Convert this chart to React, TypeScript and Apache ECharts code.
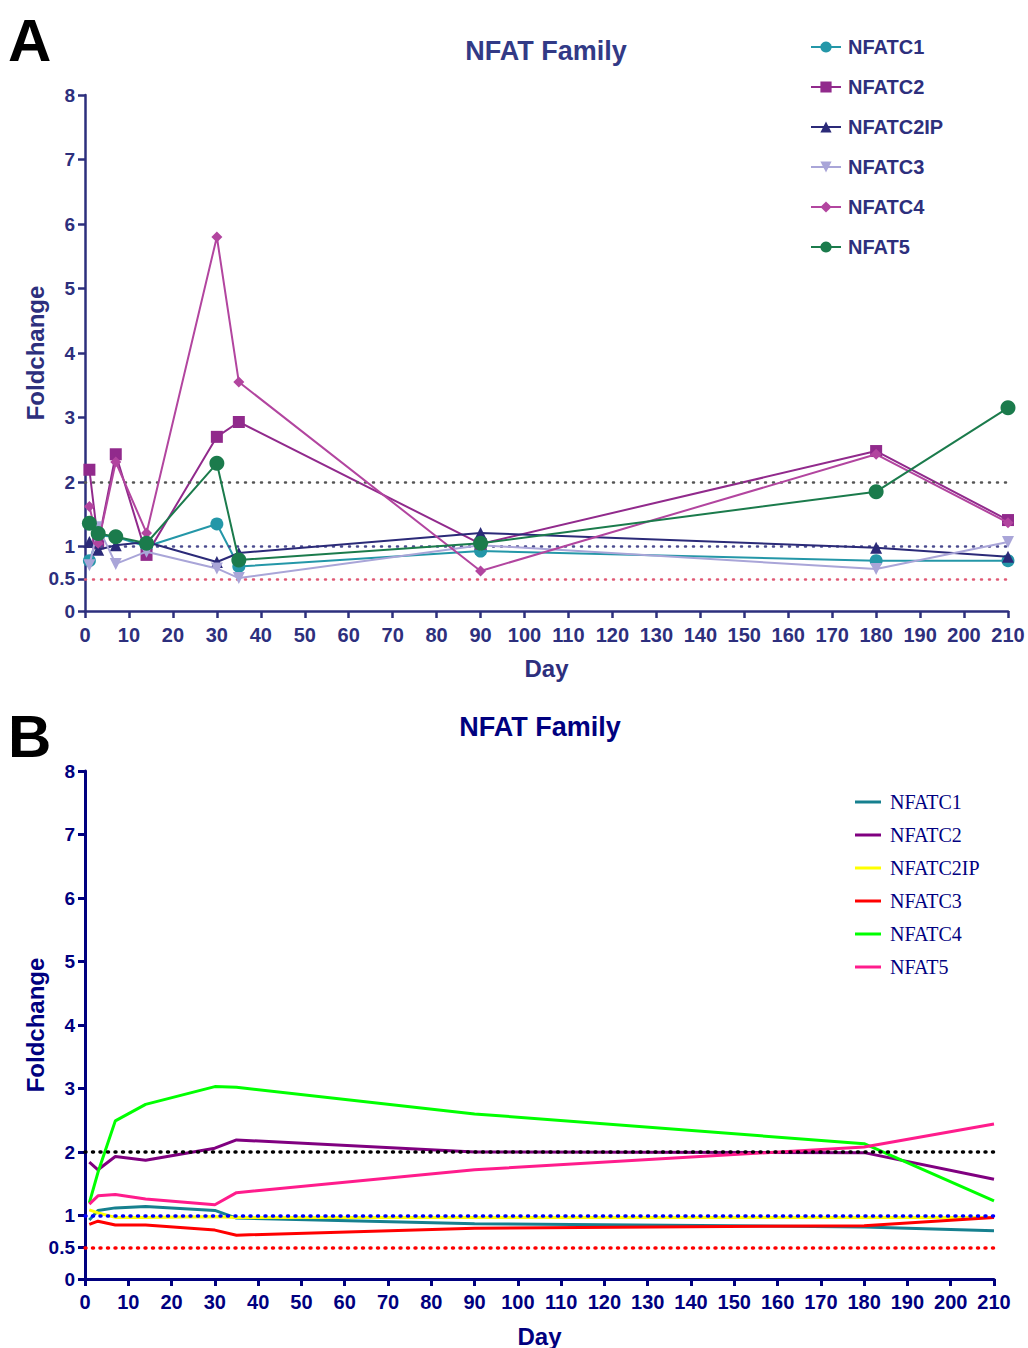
import React, { useEffect, useRef } from "react";
import * as echarts from "echarts";

const days = [1, 3, 7, 14, 30, 35, 90, 180, 210];
const seriesNames = ["NFATC1", "NFATC2", "NFATC2IP", "NFATC3", "NFATC4", "NFAT5"];

// Panel A values
const aNFATC1 = [0.78, 1.17, 1.15, 1.0, 1.35, 0.69, 0.93, 0.78, 0.78];
const aNFATC2 = [2.19, 1.05, 2.43, 0.87, 2.7, 2.93, 1.04, 2.48, 1.41];
const aNFATC2IP = [1.07, 0.95, 1.02, 1.07, 0.76, 0.9, 1.21, 0.98, 0.84];
const aNFATC3 = [0.71, 1.3, 0.73, 0.92, 0.66, 0.51, 1.02, 0.65, 1.07];
const aNFATC4 = [1.62, 1.05, 2.31, 1.21, 5.8, 3.55, 0.62, 2.43, 1.37];
const aNFAT5 = [1.36, 1.2, 1.15, 1.05, 2.29, 0.79, 1.05, 1.85, 3.15];

// Panel B values
const bNFATC1 = [0.93, 1.08, 1.12, 1.14, 1.08, 0.96, 0.87, 0.82, 0.76];
const bNFATC2 = [1.84, 1.72, 1.93, 1.87, 2.06, 2.19, 2.0, 1.99, 1.57];
const bNFATC2IP = [1.09, 1.04, 0.97, 0.97, 0.98, 0.97, 0.97, 0.97, 0.97];
const bNFATC3 = [0.86, 0.91, 0.85, 0.85, 0.77, 0.69, 0.8, 0.84, 0.97];
const bNFATC4 = [1.2, 1.68, 2.49, 2.75, 3.03, 3.02, 2.6, 2.13, 1.23];
const bNFAT5 = [1.18, 1.31, 1.33, 1.26, 1.17, 1.36, 1.72, 2.08, 2.44];

const yTicks = [0, 0.5, 1, 2, 3, 4, 5, 6, 7, 8];
const refLines = [2, 1, 0.5];

const pair = (vals: number[]) => days.map((d, i) => [d, vals[i]]);

function ChartA() {
  const ref = useRef<HTMLDivElement>(null);
  useEffect(() => {
    const chart = echarts.init(ref.current!, null, { renderer: "svg" });
    const axisColor = "#2d2f7d";
    const font = "Liberation Sans, Arial, sans-serif";
    const colors = ["#2497a8", "#912a8c", "#2b2a78", "#a9a5d8", "#b2459f", "#1b7b4c"];
    const symbols = ["circle", "rect", "triangle", "path://M0,0 L10,0 L5,9 Z", "diamond", "circle"];
    const sizes = [13, 12, 12, 12, 11, 15];
    const data = [aNFATC1, aNFATC2, aNFATC2IP, aNFATC3, aNFATC4, aNFAT5];
    const refColors = ["#555555", "#4b4b8f", "#e05a75"];
    const series: any[] = data.map((vals, i) => ({
      name: seriesNames[i],
      type: "line",
      data: pair(vals),
      symbol: symbols[i],
      symbolSize: sizes[i],
      lineStyle: { color: colors[i], width: 2 },
      itemStyle: { color: colors[i] },
      z: 3 + i,
    }));
    series.push({
      name: "ref",
      type: "line",
      data: [],
      z: 2,
      markLine: {
        silent: true,
        symbol: "none",
        label: { show: false },
        data: refLines.map((v, i) => ({
          yAxis: v,
          lineStyle: { color: refColors[i], type: [1, 7], width: 2.5, cap: "round" },
        })),
      },
    });
    chart.setOption({
      animation: false,
      title: {
        text: "NFAT Family",
        left: 541,
        textAlign: "center",
        top: 32,
        textStyle: { color: "#323a86", fontSize: 27, fontWeight: "bold", fontFamily: font },
      },
      graphic: [
        {
          type: "text",
          left: 8,
          top: 10,
          style: { text: "A", fontSize: 60, fontWeight: "bold", fill: "#000", font: `bold 60px ${font}` },
        },
      ],
      legend: {
        data: seriesNames,
        orient: "vertical",
        left: 805,
        top: 32,
        itemWidth: 30,
        itemHeight: 14,
        itemGap: 20,
        textStyle: { color: axisColor, fontSize: 20, fontWeight: "bold", fontFamily: font, padding: [0, 0, 0, 2] },
      },
      grid: { left: 85, top: 95, width: 923, height: 516, outerBoundsMode: "none" },
      xAxis: {
        type: "value",
        min: 0,
        max: 210,
        interval: 10,
        name: "Day",
        nameLocation: "middle",
        nameGap: 45,
        nameMoveOverlap: false,
        nameTextStyle: { color: axisColor, fontSize: 24, fontWeight: "bold", fontFamily: font },
        axisLine: { lineStyle: { color: axisColor, width: 2.5 } },
        axisTick: { lineStyle: { color: axisColor, width: 2.5 }, length: 7 },
        axisLabel: { color: axisColor, fontSize: 20, fontWeight: "bold", fontFamily: font, margin: 14 },
        splitLine: { show: false },
      },
      yAxis: {
        type: "value",
        min: 0,
        max: 8,
        interval: 1,
        name: "Foldchange",
        nameLocation: "middle",
        nameRotate: 90,
        nameGap: 38,
        nameMoveOverlap: false,
        nameTextStyle: { color: axisColor, fontSize: 24, fontWeight: "bold", fontFamily: font },
        axisLine: { show: true, lineStyle: { color: axisColor, width: 2.5 } },
        axisTick: { show: true, customValues: yTicks, lineStyle: { color: axisColor, width: 2.5 }, length: 7 },
        axisLabel: { customValues: yTicks, color: axisColor, fontSize: 19, fontWeight: "bold", fontFamily: font, margin: 10 },
        splitLine: { show: false },
      },
      series,
    });
    return () => chart.dispose();
  }, []);
  return <div ref={ref} style={{ position: "absolute", left: 0, top: 0, width: 1028, height: 690 }} />;
}

function ChartB() {
  const ref = useRef<HTMLDivElement>(null);
  useEffect(() => {
    const chart = echarts.init(ref.current!, null, { renderer: "svg" });
    const axisColor = "#00007f";
    const font = "Liberation Sans, Arial, sans-serif";
    const colors = ["#16808f", "#800080", "#ffff00", "#ff0000", "#00ff00", "#ff1c8c"];
    const data = [bNFATC1, bNFATC2, bNFATC2IP, bNFATC3, bNFATC4, bNFAT5];
    const refColors = ["#000000", "#0000ff", "#ff0000"];
    const series: any[] = data.map((vals, i) => ({
      name: seriesNames[i],
      type: "line",
      data: pair(vals),
      symbol: "none",
      lineStyle: { color: colors[i], width: 3 },
      itemStyle: { color: colors[i] },
      z: 3 + i,
    }));
    series.push({
      name: "ref",
      type: "line",
      data: [],
      z: 20,
      markLine: {
        silent: true,
        symbol: "none",
        z: 20,
        label: { show: false },
        data: refLines.map((v, i) => ({
          yAxis: v,
          lineStyle: { color: refColors[i], type: [1, 6.5], width: 3.5, cap: "round" },
        })),
      },
    });
    chart.setOption({
      animation: false,
      title: {
        text: "NFAT Family",
        left: 535,
        textAlign: "center",
        top: 18,
        textStyle: { color: axisColor, fontSize: 27, fontWeight: "bold", fontFamily: font },
      },
      graphic: [
        {
          type: "text",
          left: 8,
          top: 16,
          style: { text: "B", fontSize: 60, fontWeight: "bold", fill: "#000", font: `bold 60px ${font}` },
        },
      ],
      legend: {
        data: seriesNames,
        orient: "vertical",
        left: 850,
        top: 97,
        icon: "rect",
        itemWidth: 26,
        itemHeight: 3,
        itemGap: 13,
        textStyle: { color: axisColor, fontSize: 20, fontFamily: "Liberation Serif, Times New Roman, serif", padding: [0, 0, 0, 4] },
      },
      grid: { left: 85, top: 81, width: 909, height: 508, outerBoundsMode: "none" },
      xAxis: {
        type: "value",
        min: 0,
        max: 210,
        interval: 10,
        name: "Day",
        nameLocation: "middle",
        nameGap: 45,
        nameMoveOverlap: false,
        nameTextStyle: { color: axisColor, fontSize: 24, fontWeight: "bold", fontFamily: font },
        axisLine: { lineStyle: { color: axisColor, width: 3 } },
        axisTick: { lineStyle: { color: axisColor, width: 3 }, length: 7 },
        axisLabel: { color: axisColor, fontSize: 20, fontWeight: "bold", fontFamily: font, margin: 13 },
        splitLine: { show: false },
      },
      yAxis: {
        type: "value",
        min: 0,
        max: 8,
        interval: 1,
        name: "Foldchange",
        nameLocation: "middle",
        nameRotate: 90,
        nameGap: 38,
        nameMoveOverlap: false,
        nameTextStyle: { color: axisColor, fontSize: 24, fontWeight: "bold", fontFamily: font },
        axisLine: { show: true, lineStyle: { color: axisColor, width: 3 } },
        axisTick: { show: true, customValues: yTicks, lineStyle: { color: axisColor, width: 3 }, length: 7 },
        axisLabel: { customValues: yTicks, color: axisColor, fontSize: 19, fontWeight: "bold", fontFamily: font, margin: 10 },
        splitLine: { show: false },
      },
      series,
    });
    return () => chart.dispose();
  }, []);
  return <div ref={ref} style={{ position: "absolute", left: 0, top: 690, width: 1028, height: 658 }} />;
}

export default function App() {
  useEffect(() => {
    document.body.style.margin = "0";
  }, []);
  return (
    <div style={{ position: "relative", width: 1028, height: 1348, background: "#fff" }}>
      <ChartA />
      <ChartB />
    </div>
  );
}
